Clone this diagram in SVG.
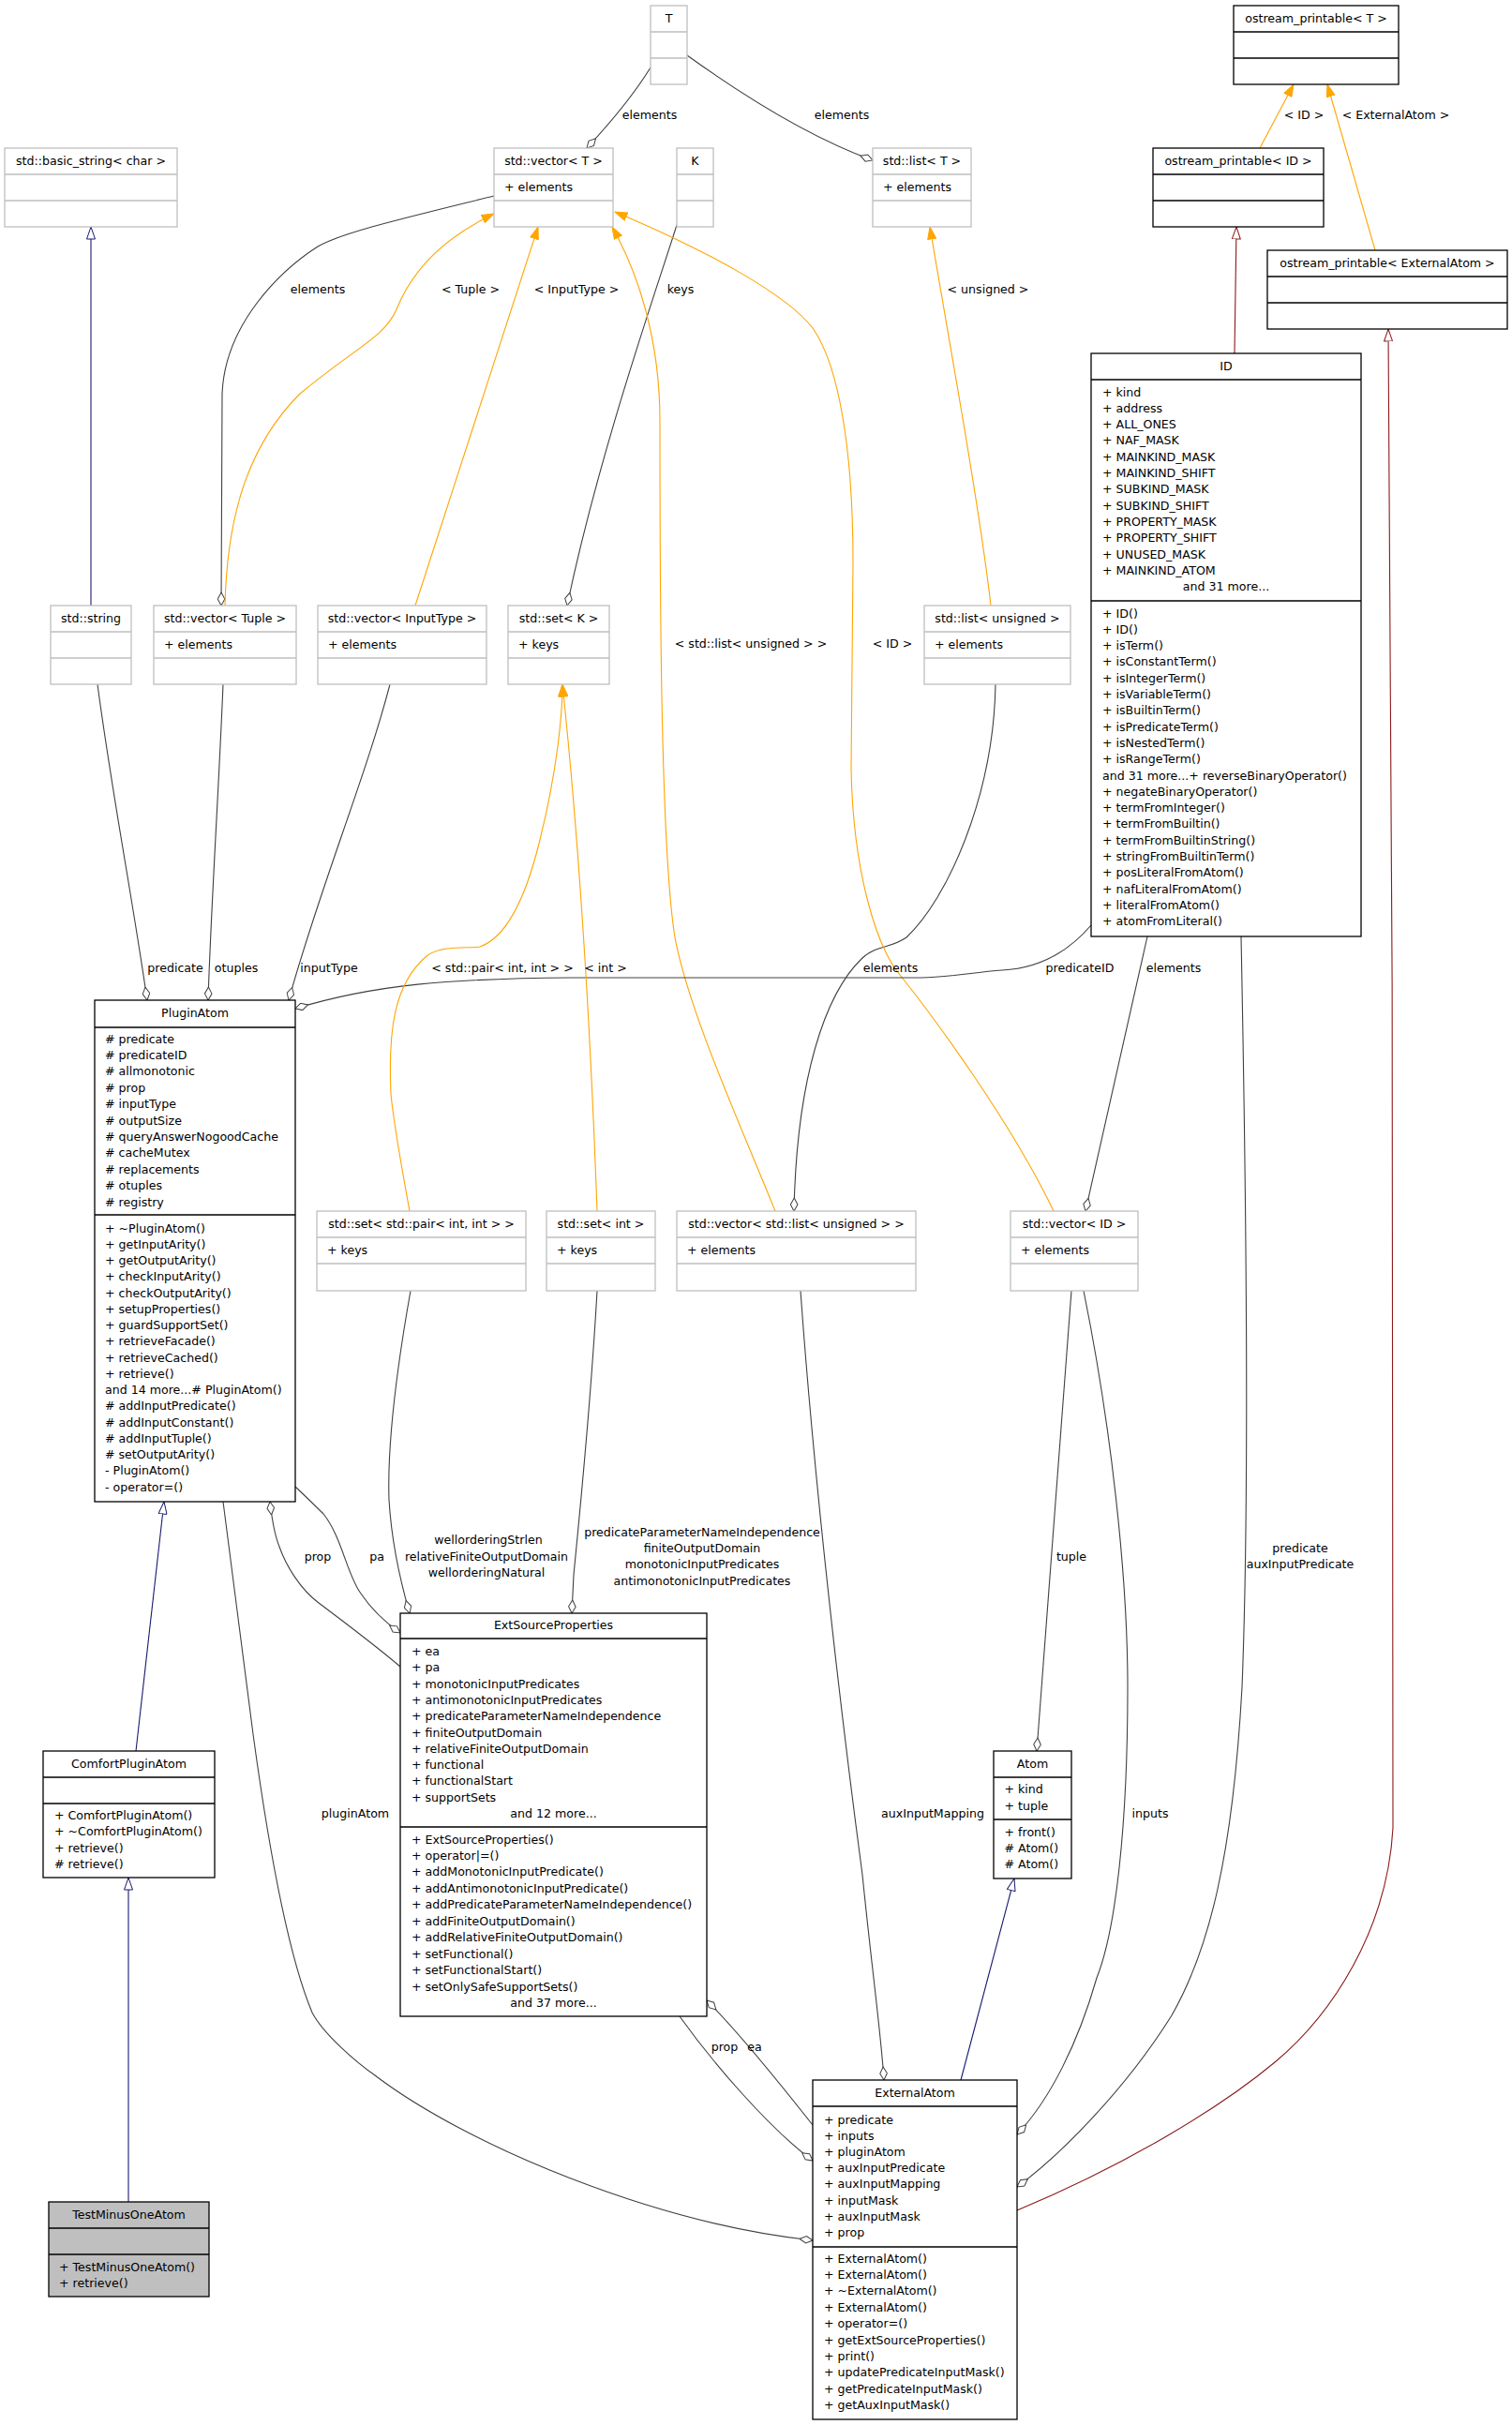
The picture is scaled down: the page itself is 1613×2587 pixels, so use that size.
<svg xmlns="http://www.w3.org/2000/svg" width="1613" height="2587" viewBox="0 0 1613 2587">
<defs>
<style>
text{font-family:"DejaVu Sans","Liberation Sans",sans-serif;font-size:12.6px;fill:#000}
.c{text-anchor:middle}
.n rect{fill:#fff;stroke:#000;stroke-width:1.3}
.n path{fill:none;stroke:#000;stroke-width:1.3}
.g rect,.g path{stroke:#bfbfbf}
.sel rect{fill:#bfbfbf}
#edges path{fill:none;stroke-width:1.1}
#edges .agg{stroke:#404040;marker-end:url(#dia)}
#edges .tpl{stroke:#ffa500;marker-end:url(#arr)}
#edges .pub{stroke:#191970;marker-end:url(#trib)}
#edges .prv{stroke:#8b1a1a;marker-end:url(#trir)}
</style>
<marker id="dia" viewBox="0 0 15 9" refX="14.5" refY="4.5" markerWidth="15" markerHeight="9" markerUnits="userSpaceOnUse" orient="auto"><path d="M0.5,4.5 L7.5,0.7 L14.5,4.5 L7.5,8.3 Z" fill="#fff" stroke="#404040" stroke-width="1"/></marker>
<marker id="arr" viewBox="0 0 14 10" refX="13.5" refY="5" markerWidth="14" markerHeight="10" markerUnits="userSpaceOnUse" orient="auto"><path d="M0.5,0.5 L13.5,5 L0.5,9.5 Z" fill="#ffa500" stroke="#ffa500" stroke-width="1"/></marker>
<marker id="trib" viewBox="0 0 14 10" refX="13.5" refY="5" markerWidth="14" markerHeight="10" markerUnits="userSpaceOnUse" orient="auto"><path d="M0.5,0.5 L13.5,5 L0.5,9.5 Z" fill="#fff" stroke="#191970" stroke-width="1"/></marker>
<marker id="trir" viewBox="0 0 14 10" refX="13.5" refY="5" markerWidth="14" markerHeight="10" markerUnits="userSpaceOnUse" orient="auto"><path d="M0.5,0.5 L13.5,5 L0.5,9.5 Z" fill="#fff" stroke="#8b1a1a" stroke-width="1"/></marker>
</defs>
<rect width="1613" height="2587" fill="#fff"/>

<g id="edges">
<path class="agg" d="M694,72 C678,98 652,130 626,158"/>
<path class="agg" d="M733,59 C790,100 860,145 931,171"/>
<path class="agg" d="M527,209 C430,233 365,248 339,263 C300,288 240,345 237,420 L236,646"/>
<path class="tpl" d="M240,646 C242,560 260,480 320,420 C380,370 410,360 423,330 C435,300 460,260 527,228"/>
<path class="tpl" d="M443,646 L574,242"/>
<path class="agg" d="M722,240 C700,310 640,480 605,646"/>
<path class="agg" d="M1062,730 C1060,850 1010,960 967,1000 C950,1012 935,1008 920,1022 C880,1060 850,1150 847,1292"/>
<path class="tpl" d="M1057,646 C1045,540 1010,350 992,242"/>
<path class="tpl" d="M827,1292 C790,1200 735,1080 720,1000 C704,900 704,600 704,450 C704,360 680,290 653,242"/>
<path class="tpl" d="M1124,1292 C1080,1200 1000,1090 960,1040 C935,1010 910,930 908,820 L910,600 C910,480 895,390 867,350 C840,315 760,270 656,226"/>
<path class="agg" d="M1164,987 C1140,1015 1110,1033 1069,1035 C1040,1037 1010,1043 983,1043 L610,1043 C480,1044 400,1050 315,1076"/>
<path class="agg" d="M1224,999 L1158,1292"/>
<path class="agg" d="M1143,1377 L1106,1868"/>
<path class="agg" d="M1156,1377 C1185,1520 1203,1680 1203,1800 C1203,1950 1190,2060 1170,2110 C1150,2180 1120,2240 1085,2277"/>
<path class="agg" d="M1324,999 C1330,1300 1333,1600 1325,1800 C1315,1980 1290,2080 1250,2150 C1200,2230 1130,2300 1085,2333"/>
<path class="prv" d="M1085,2358 C1200,2310 1300,2250 1360,2200 C1420,2150 1480,2060 1486,1950 C1490,1800 1484,800 1481,351"/>
<path class="pub" d="M1025,2219 L1082,2004"/>
<path class="agg" d="M854,1377 C870,1600 900,1850 920,2000 C930,2100 940,2170 943,2219"/>
<path class="agg" d="M238,1602 C250,1700 262,1790 270,1850 C285,1960 305,2080 333,2147 C345,2170 380,2200 400,2214 C500,2290 700,2372 867,2390"/>
<path class="agg" d="M725,2151 C760,2200 820,2270 867,2305"/>
<path class="agg" d="M867,2267 C830,2220 790,2170 754,2134"/>
<path class="agg" d="M315,1586 C330,1600 340,1610 345,1615 C365,1640 370,1680 385,1700 C395,1715 410,1730 427,1742"/>
<path class="agg" d="M427,1778 C400,1755 360,1725 340,1710 C320,1695 305,1670 298,1650 C292,1635 290,1620 288,1602"/>
<path class="agg" d="M438,1377 C425,1450 413,1540 415,1600 C418,1650 428,1690 437,1721"/>
<path class="agg" d="M637,1377 C630,1500 618,1620 612,1680 L610,1721"/>
<path class="agg" d="M104,730 C120,850 140,950 157,1067"/>
<path class="agg" d="M238,730 C233,850 225,970 222,1067"/>
<path class="agg" d="M416,730 C390,830 340,950 308,1067"/>
<path class="pub" d="M145,1868 L175,1602"/>
<path class="pub" d="M137,2349 L137,2003"/>
<path class="pub" d="M97,646 L97,242"/>
<path class="tpl" d="M1344,158 L1380,90"/>
<path class="tpl" d="M1467,267 L1416,90"/>
<path class="prv" d="M1317,377 L1319,242"/>
<path class="tpl" d="M437,1292 C433,1270 420,1200 417,1167 C414,1100 420,1050 455,1020 C470,1008 500,1012 512,1010 C540,1000 560,960 575,900 C595,820 600,760 600,730"/>
<path class="tpl" d="M637,1292 C630,1100 618,900 600,730"/>
</g>

<g id="edge-labels">
<text class="c" x="693" y="127">elements</text>
<text class="c" x="898" y="127">elements</text>
<text class="c" x="1391" y="127">&lt; ID &gt;</text>
<text class="c" x="1489" y="127">&lt; ExternalAtom &gt;</text>
<text class="c" x="339" y="313">elements</text>
<text class="c" x="502" y="313">&lt; Tuple &gt;</text>
<text class="c" x="615" y="313">&lt; InputType &gt;</text>
<text class="c" x="726" y="313">keys</text>
<text class="c" x="1054" y="313">&lt; unsigned &gt;</text>
<text class="c" x="801" y="691">&lt; std::list&lt; unsigned &gt; &gt;</text>
<text class="c" x="952" y="691">&lt; ID &gt;</text>
<text class="c" x="187" y="1037">predicate</text>
<text class="c" x="252" y="1037">otuples</text>
<text class="c" x="351" y="1037">inputType</text>
<text class="c" x="536" y="1037">&lt; std::pair&lt; int, int &gt; &gt;</text>
<text class="c" x="646" y="1037">&lt; int &gt;</text>
<text class="c" x="950" y="1037">elements</text>
<text class="c" x="1152" y="1037">predicateID</text>
<text class="c" x="1252" y="1037">elements</text>
<text class="c" x="339" y="1665">prop</text>
<text class="c" x="402" y="1665">pa</text>
<text class="c" x="521" y="1647">wellorderingStrlen</text>
<text class="c" x="519" y="1665">relativeFiniteOutputDomain</text>
<text class="c" x="519" y="1682">wellorderingNatural</text>
<text class="c" x="749" y="1639">predicateParameterNameIndependence</text>
<text class="c" x="749" y="1656">finiteOutputDomain</text>
<text class="c" x="749" y="1673">monotonicInputPredicates</text>
<text class="c" x="749" y="1691">antimonotonicInputPredicates</text>
<text class="c" x="1143" y="1665">tuple</text>
<text class="c" x="1387" y="1656">predicate</text>
<text class="c" x="1387" y="1673">auxInputPredicate</text>
<text class="c" x="379" y="1939">pluginAtom</text>
<text class="c" x="995" y="1939">auxInputMapping</text>
<text class="c" x="1227" y="1939">inputs</text>
<text class="c" x="773" y="2188">prop</text>
<text class="c" x="805" y="2188">ea</text>
</g>

<g id="T" class="n g"><rect x="694" y="6" width="39" height="84"/><path d="M694,34h39M694,62h39"/><text class="c" x="713.5" y="23.5">T</text></g>
<g id="basic_string" class="n g"><rect x="5" y="158" width="184" height="84"/><path d="M5,186h184M5,214h184"/><text class="c" x="97" y="175.5">std::basic_string&lt; char &gt;</text></g>
<g id="vector_T" class="n g"><rect x="527" y="158" width="127" height="84"/><path d="M527,186h127M527,214h127"/><text class="c" x="590.5" y="175.5">std::vector&lt; T &gt;</text><text x="538" y="203.5">+ elements</text></g>
<g id="K" class="n g"><rect x="722" y="158" width="39" height="84"/><path d="M722,186h39M722,214h39"/><text class="c" x="741.5" y="175.5">K</text></g>
<g id="list_T" class="n g"><rect x="931" y="158" width="105" height="84"/><path d="M931,186h105M931,214h105"/><text class="c" x="983.5" y="175.5">std::list&lt; T &gt;</text><text x="942" y="203.5">+ elements</text></g>
<g id="std_string" class="n g"><rect x="54" y="646" width="86" height="84"/><path d="M54,674h86M54,702h86"/><text class="c" x="97" y="663.5">std::string</text></g>
<g id="vector_Tuple" class="n g"><rect x="164" y="646" width="152" height="84"/><path d="M164,674h152M164,702h152"/><text class="c" x="240" y="663.5">std::vector&lt; Tuple &gt;</text><text x="175" y="691.5">+ elements</text></g>
<g id="vector_InputType" class="n g"><rect x="339" y="646" width="180" height="84"/><path d="M339,674h180M339,702h180"/><text class="c" x="429" y="663.5">std::vector&lt; InputType &gt;</text><text x="350" y="691.5">+ elements</text></g>
<g id="set_K" class="n g"><rect x="542" y="646" width="108" height="84"/><path d="M542,674h108M542,702h108"/><text class="c" x="596" y="663.5">std::set&lt; K &gt;</text><text x="553" y="691.5">+ keys</text></g>
<g id="list_unsigned" class="n g"><rect x="986" y="646" width="156" height="84"/><path d="M986,674h156M986,702h156"/><text class="c" x="1064" y="663.5">std::list&lt; unsigned &gt;</text><text x="997" y="691.5">+ elements</text></g>
<g id="set_pair" class="n g"><rect x="338" y="1292" width="223" height="85"/><path d="M338,1320h223M338,1348h223"/><text class="c" x="449.5" y="1309.5">std::set&lt; std::pair&lt; int, int &gt; &gt;</text><text x="349" y="1337.5">+ keys</text></g>
<g id="set_int" class="n g"><rect x="583" y="1292" width="116" height="85"/><path d="M583,1320h116M583,1348h116"/><text class="c" x="641" y="1309.5">std::set&lt; int &gt;</text><text x="594" y="1337.5">+ keys</text></g>
<g id="vector_list_unsigned" class="n g"><rect x="722" y="1292" width="255" height="85"/><path d="M722,1320h255M722,1348h255"/><text class="c" x="849.5" y="1309.5">std::vector&lt; std::list&lt; unsigned &gt; &gt;</text><text x="733" y="1337.5">+ elements</text></g>
<g id="vector_ID" class="n g"><rect x="1078" y="1292" width="136" height="85"/><path d="M1078,1320h136M1078,1348h136"/><text class="c" x="1146" y="1309.5">std::vector&lt; ID &gt;</text><text x="1089" y="1337.5">+ elements</text></g>

<g id="ostream_T" class="n"><rect x="1316" y="6" width="176" height="84"/><path d="M1316,34h176M1316,62h176"/><text class="c" x="1404" y="23.5">ostream_printable&lt; T &gt;</text></g>
<g id="ostream_ID" class="n"><rect x="1230" y="158" width="182" height="84"/><path d="M1230,186h182M1230,214h182"/><text class="c" x="1321" y="175.5">ostream_printable&lt; ID &gt;</text></g>
<g id="ostream_ExternalAtom" class="n"><rect x="1352" y="267" width="256" height="84"/><path d="M1352,295h256M1352,323h256"/><text class="c" x="1480" y="284.5">ostream_printable&lt; ExternalAtom &gt;</text></g>

<g id="ID" class="n"><rect x="1164" y="377" width="288" height="622"/><path d="M1164,405h288M1164,641h288"/>
<text class="c" x="1308" y="395">ID</text>
<text x="1176" y="422.5"><tspan x="1176">+ kind</tspan><tspan x="1176" dy="17.3">+ address</tspan><tspan x="1176" dy="17.3">+ ALL_ONES</tspan><tspan x="1176" dy="17.3">+ NAF_MASK</tspan><tspan x="1176" dy="17.3">+ MAINKIND_MASK</tspan><tspan x="1176" dy="17.3">+ MAINKIND_SHIFT</tspan><tspan x="1176" dy="17.3">+ SUBKIND_MASK</tspan><tspan x="1176" dy="17.3">+ SUBKIND_SHIFT</tspan><tspan x="1176" dy="17.3">+ PROPERTY_MASK</tspan><tspan x="1176" dy="17.3">+ PROPERTY_SHIFT</tspan><tspan x="1176" dy="17.3">+ UNUSED_MASK</tspan><tspan x="1176" dy="17.3">+ MAINKIND_ATOM</tspan></text>
<text class="c" x="1308" y="630.1">and 31 more...</text>
<text x="1176" y="658.5"><tspan x="1176">+ ID()</tspan><tspan x="1176" dy="17.3">+ ID()</tspan><tspan x="1176" dy="17.3">+ isTerm()</tspan><tspan x="1176" dy="17.3">+ isConstantTerm()</tspan><tspan x="1176" dy="17.3">+ isIntegerTerm()</tspan><tspan x="1176" dy="17.3">+ isVariableTerm()</tspan><tspan x="1176" dy="17.3">+ isBuiltinTerm()</tspan><tspan x="1176" dy="17.3">+ isPredicateTerm()</tspan><tspan x="1176" dy="17.3">+ isNestedTerm()</tspan><tspan x="1176" dy="17.3">+ isRangeTerm()</tspan><tspan x="1176" dy="17.3">and 31 more...+ reverseBinaryOperator()</tspan><tspan x="1176" dy="17.3">+ negateBinaryOperator()</tspan><tspan x="1176" dy="17.3">+ termFromInteger()</tspan><tspan x="1176" dy="17.3">+ termFromBuiltin()</tspan><tspan x="1176" dy="17.3">+ termFromBuiltinString()</tspan><tspan x="1176" dy="17.3">+ stringFromBuiltinTerm()</tspan><tspan x="1176" dy="17.3">+ posLiteralFromAtom()</tspan><tspan x="1176" dy="17.3">+ nafLiteralFromAtom()</tspan><tspan x="1176" dy="17.3">+ literalFromAtom()</tspan><tspan x="1176" dy="17.3">+ atomFromLiteral()</tspan></text>
</g>

<g id="PluginAtom" class="n"><rect x="101" y="1067" width="214" height="535"/><path d="M101,1096h214M101,1296h214"/>
<text class="c" x="208" y="1085">PluginAtom</text>
<text x="112" y="1112.5"><tspan x="112"># predicate</tspan><tspan x="112" dy="17.4"># predicateID</tspan><tspan x="112" dy="17.4"># allmonotonic</tspan><tspan x="112" dy="17.4"># prop</tspan><tspan x="112" dy="17.4"># inputType</tspan><tspan x="112" dy="17.4"># outputSize</tspan><tspan x="112" dy="17.4"># queryAnswerNogoodCache</tspan><tspan x="112" dy="17.4"># cacheMutex</tspan><tspan x="112" dy="17.4"># replacements</tspan><tspan x="112" dy="17.4"># otuples</tspan><tspan x="112" dy="17.4"># registry</tspan></text>
<text x="112" y="1314.5"><tspan x="112">+ ~PluginAtom()</tspan><tspan x="112" dy="17.25">+ getInputArity()</tspan><tspan x="112" dy="17.25">+ getOutputArity()</tspan><tspan x="112" dy="17.25">+ checkInputArity()</tspan><tspan x="112" dy="17.25">+ checkOutputArity()</tspan><tspan x="112" dy="17.25">+ setupProperties()</tspan><tspan x="112" dy="17.25">+ guardSupportSet()</tspan><tspan x="112" dy="17.25">+ retrieveFacade()</tspan><tspan x="112" dy="17.25">+ retrieveCached()</tspan><tspan x="112" dy="17.25">+ retrieve()</tspan><tspan x="112" dy="17.25">and 14 more...# PluginAtom()</tspan><tspan x="112" dy="17.25"># addInputPredicate()</tspan><tspan x="112" dy="17.25"># addInputConstant()</tspan><tspan x="112" dy="17.25"># addInputTuple()</tspan><tspan x="112" dy="17.25"># setOutputArity()</tspan><tspan x="112" dy="17.25">- PluginAtom()</tspan><tspan x="112" dy="17.25">- operator=()</tspan></text>
</g>

<g id="ExtSourceProperties" class="n"><rect x="427" y="1721" width="327" height="430"/><path d="M427,1748h327M427,1949h327"/>
<text class="c" x="590.5" y="1738">ExtSourceProperties</text>
<text x="439" y="1766"><tspan x="439">+ ea</tspan><tspan x="439" dy="17.3">+ pa</tspan><tspan x="439" dy="17.3">+ monotonicInputPredicates</tspan><tspan x="439" dy="17.3">+ antimonotonicInputPredicates</tspan><tspan x="439" dy="17.3">+ predicateParameterNameIndependence</tspan><tspan x="439" dy="17.3">+ finiteOutputDomain</tspan><tspan x="439" dy="17.3">+ relativeFiniteOutputDomain</tspan><tspan x="439" dy="17.3">+ functional</tspan><tspan x="439" dy="17.3">+ functionalStart</tspan><tspan x="439" dy="17.3">+ supportSets</tspan></text>
<text class="c" x="590.5" y="1939">and 12 more...</text>
<text x="439" y="1966.5"><tspan x="439">+ ExtSourceProperties()</tspan><tspan x="439" dy="17.45">+ operator|=()</tspan><tspan x="439" dy="17.45">+ addMonotonicInputPredicate()</tspan><tspan x="439" dy="17.45">+ addAntimonotonicInputPredicate()</tspan><tspan x="439" dy="17.45">+ addPredicateParameterNameIndependence()</tspan><tspan x="439" dy="17.45">+ addFiniteOutputDomain()</tspan><tspan x="439" dy="17.45">+ addRelativeFiniteOutputDomain()</tspan><tspan x="439" dy="17.45">+ setFunctional()</tspan><tspan x="439" dy="17.45">+ setFunctionalStart()</tspan><tspan x="439" dy="17.45">+ setOnlySafeSupportSets()</tspan></text>
<text class="c" x="590.5" y="2141">and 37 more...</text>
</g>

<g id="Atom" class="n"><rect x="1060" y="1868" width="83" height="136"/><path d="M1060,1896h83M1060,1941h83"/>
<text class="c" x="1101.5" y="1885.5">Atom</text>
<text x="1071.5" y="1912.5"><tspan x="1071.5">+ kind</tspan><tspan x="1071.5" dy="18.5">+ tuple</tspan></text>
<text x="1071.5" y="1958.5"><tspan x="1071.5">+ front()</tspan><tspan x="1071.5" dy="17.3"># Atom()</tspan><tspan x="1071.5" dy="17.3"># Atom()</tspan></text>
</g>

<g id="ExternalAtom" class="n"><rect x="867" y="2219" width="218" height="362"/><path d="M867,2247h218M867,2397h218"/>
<text class="c" x="976" y="2237">ExternalAtom</text>
<text x="879" y="2265.5"><tspan x="879">+ predicate</tspan><tspan x="879" dy="17.2">+ inputs</tspan><tspan x="879" dy="17.2">+ pluginAtom</tspan><tspan x="879" dy="17.2">+ auxInputPredicate</tspan><tspan x="879" dy="17.2">+ auxInputMapping</tspan><tspan x="879" dy="17.2">+ inputMask</tspan><tspan x="879" dy="17.2">+ auxInputMask</tspan><tspan x="879" dy="17.2">+ prop</tspan></text>
<text x="879" y="2413.5"><tspan x="879">+ ExternalAtom()</tspan><tspan x="879" dy="17.4">+ ExternalAtom()</tspan><tspan x="879" dy="17.4">+ ~ExternalAtom()</tspan><tspan x="879" dy="17.4">+ ExternalAtom()</tspan><tspan x="879" dy="17.4">+ operator=()</tspan><tspan x="879" dy="17.4">+ getExtSourceProperties()</tspan><tspan x="879" dy="17.4">+ print()</tspan><tspan x="879" dy="17.4">+ updatePredicateInputMask()</tspan><tspan x="879" dy="17.4">+ getPredicateInputMask()</tspan><tspan x="879" dy="17.4">+ getAuxInputMask()</tspan></text>
</g>

<g id="ComfortPluginAtom" class="n"><rect x="46" y="1868" width="183" height="135"/><path d="M46,1896h183M46,1924h183"/>
<text class="c" x="137.5" y="1885.5">ComfortPluginAtom</text>
<text x="58" y="1940.5"><tspan x="58">+ ComfortPluginAtom()</tspan><tspan x="58" dy="17.5">+ ~ComfortPluginAtom()</tspan><tspan x="58" dy="17.5">+ retrieve()</tspan><tspan x="58" dy="17.5"># retrieve()</tspan></text>
</g>

<g id="TestMinusOneAtom" class="n sel"><rect x="52" y="2349" width="171" height="101"/><path d="M52,2377h171M52,2405h171"/>
<text class="c" x="137.5" y="2367">TestMinusOneAtom</text>
<text x="63" y="2422.5"><tspan x="63">+ TestMinusOneAtom()</tspan><tspan x="63" dy="17.3">+ retrieve()</tspan></text>
</g>
</svg>
